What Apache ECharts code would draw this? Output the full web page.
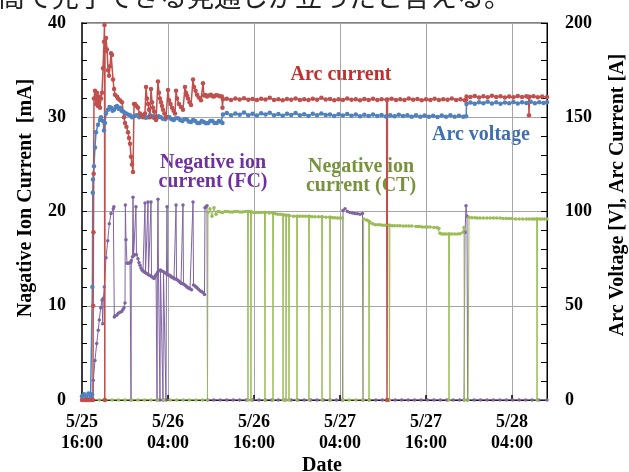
<!DOCTYPE html>
<html><head><meta charset="utf-8">
<script src="https://cdn.jsdelivr.net/npm/echarts@6/dist/echarts.min.js"></script>
<style>html,body{margin:0;padding:0;background:#fff}#c{width:629px;height:472px}</style>
</head><body><div id="c"></div>
<script>
// x values: hours after 5/25 16:00
const xTickLabels = ['5/25\n16:00', '5/26\n04:00', '5/26\n16:00', '5/27\n04:00', '5/27\n16:00', '5/28\n04:00'];
const leftTicks = [0, 10, 20, 30, 40];
const rightTicks = [0, 50, 100, 150, 200];

// Arc current [A] (right axis)
const arcCurrent = [
[0,0],[0.3,0],[0.6,0],[0.9,0],[1.2,0],[1.53,0],[1.56,50],[1.6,89],[1.63,120],[1.67,160],[1.81,164],[1.95,157],[2.09,163],[2.23,156],[2.37,161],[2.51,155],[2.65,160],[2.79,163],[2.93,176],[3.07,190],[3.14,199],[3.18,0],[3.21,185],[3.35,192],[3.49,186],[3.63,175],[3.77,172],[3.91,177],[4.05,184],[4.19,183],[4.33,170],[4.47,165],[4.60,162],[4.88,161],[5.02,160],[5.30,159],[5.58,158],[5.86,150],[6.00,147],[6.20,145],[6.42,142],[6.56,139],[6.70,136],[6.84,129],[6.98,125],[7.12,121],[7.26,157],[7.40,157],[7.60,156],[7.81,155],[8.09,152],[8.30,151],[8.51,150],[8.79,152],[8.93,166],[9.07,160],[9.21,157],[9.35,154],[9.49,150],[9.63,165],[9.77,158],[9.91,155],[10.05,153],[10.19,150],[10.33,148.5],[10.60,169],[10.74,163],[10.88,160],[11.02,158],[11.16,156],[11.30,154],[11.50,152],[11.72,150],[12.00,164.5],[12.14,159],[12.35,157],[12.56,155],[12.77,153.5],[12.98,152],[13.12,164],[13.26,160],[13.53,157],[13.81,155.5],[14.09,154],[14.37,166],[14.51,163],[14.65,161.5],[14.79,160],[15.00,158],[15.21,156.5],[15.49,170],[15.63,166],[15.84,164],[16.05,162],[16.30,160.5],[16.60,159],[16.88,168],[17.02,161.5],[17.23,161.8],[17.44,161],[17.72,161.6],[18.00,162],[18.21,161.2],[18.42,161],[18.70,161.7],[18.98,161.5],[19.25,161.2],[19.53,161],[19.60,155],
[19.67,159.5],[20.2,159.8],[20.8,159.2],[21.4,159.9],[22.0,159.4],[22.6,160.1],[23.2,159.3],[23.8,159.7],[24.4,159.1],[25.0,159.8],[25.6,159.4],[26.2,160.3],[26.8,159.2],[27.4,159.6],[28.0,159.0],[28.6,159.7],[29.2,159.3],[29.8,160.0],[30.4,159.2],[31.0,159.6],[31.6,159.1],[32.2,159.8],[32.8,159.3],[33.4,160.4],[34.0,159.4],[34.6,159.7],[35.2,159.0],[35.8,159.6],[36.4,159.2],[37.0,159.9],[37.6,159.3],[38.2,159.6],[38.8,159.0],[39.4,159.7],[40.0,159.2],[40.6,159.8],[41.2,159.1],[41.8,159.5],[42.5,159.3],[42.56,0],[42.62,159.4],[43.2,159.8],[43.8,159.1],[44.4,159.6],[45.0,159.2],[45.6,159.9],[46.2,159.3],[46.8,159.7],[47.4,159.0],[48.0,159.6],[48.6,159.2],[49.2,159.8],[49.8,159.1],[50.4,159.6],[51.0,159.3],[51.6,159.9],[52.2,159.2],[52.8,159.5],[53.4,159.0],[53.6,159.3],
[53.65,161.0],[54.2,160.7],[54.8,161.3],[55.4,160.5],[56.0,161.1],[56.6,160.6],[57.2,161.4],[57.8,160.8],[58.4,161.2],[59.0,160.5],[59.6,161.0],[60.2,160.6],[60.8,161.3],[61.4,160.8],[62.0,161.1],[62.3,160.7],[62.37,151],[62.44,160.9],[63.0,161.2],[63.6,160.6],[64.2,161.0],[64.88,160.7]
];

// Arc voltage [V] (right axis)
const arcVoltage = [
[0,2],[0.3,3],[0.6,1.5],[0.9,3.5],[1.2,2],[1.40,3],[1.45,60],[1.50,110],[1.53,117],[1.67,124],[1.81,134],[1.95,142],[2.23,146],[2.51,148.5],[2.65,150],[2.93,148],[3.07,143],[3.21,147],[3.35,152],[3.63,154],[3.84,155.5],[4.05,155],[4.26,153.5],[4.47,154],[4.68,155.5],[4.88,156],[5.09,154.5],[5.30,155],[5.51,153.5],[5.72,153],[5.93,152.5],[6.14,152],[6.42,151.5],[6.70,151],[6.98,150],[7.26,150.5],[7.6,151],[8.0,150],[8.3,150.8],[8.6,151],[8.9,149.8],[9.2,150],[9.5,151],[9.8,150.5],[10.1,149.5],[10.4,149.5],[10.7,150.5],[11.0,150],[11.3,149.2],[11.6,149],[11.9,150],[12.2,150],[12.5,149],[12.8,148.5],[13.1,149.5],[13.4,149.5],[13.7,148.5],[14.0,148],[14.3,149],[14.6,149],[14.9,147.8],[15.2,147.5],[15.5,148.5],[15.8,148],[16.1,147],[16.4,147],[16.7,148],[17.0,147.5],[17.3,146.8],[17.6,147],[17.9,148],[18.2,148],[18.5,147],[18.8,147],[19.1,148],[19.4,147.5],[19.6,147],
[19.67,151.5],[20.2,152.3],[20.8,151.0],[21.4,152.0],[22.0,151.3],[22.6,152.5],[23.2,151.1],[23.8,151.8],[24.4,150.9],[25.0,152.1],[25.6,151.4],[26.2,152.4],[26.8,151.0],[27.4,151.7],[28.0,150.8],[28.6,151.9],[29.2,151.2],[29.8,152.2],[30.4,151.0],[31.0,151.6],[31.6,150.7],[32.2,151.8],[32.8,151.1],[33.4,152.0],[34.0,151.2],[34.6,151.5],[35.2,150.6],[35.8,151.6],[36.4,150.9],[37.0,151.7],[37.6,150.8],[38.2,151.4],[38.8,150.5],[39.4,151.3],[40.0,150.6],[40.6,151.5],[41.2,150.7],[41.8,151.2],[42.4,150.4],[43.0,151.1],[43.6,150.5],[44.2,151.3],[44.8,150.6],[45.4,151.0],[46.0,150.2],[46.6,151.0],[47.2,150.3],[47.8,150.9],[48.4,150.2],[49.0,150.8],[49.6,150.1],[50.2,150.9],[50.8,150.3],[51.4,151.0],[52.0,150.2],[52.6,150.8],[53.2,150.3],[53.6,150.5],
[53.65,157.0],[54.2,157.8],[54.8,157.2],[55.4,158.0],[56.0,157.4],[56.6,158.2],[57.2,157.3],[57.8,157.9],[58.4,157.1],[59.0,157.8],[59.6,157.4],[60.2,158.1],[60.8,157.3],[61.4,157.9],[62.0,157.5],[62.6,158.2],[63.2,157.4],[63.8,158.0],[64.4,157.6],[64.88,157.9]
];

// Negative ion current (FC) [mA] (left axis)
const ionFC = [
[0,0],[1.53,0],[1.58,2.1],[1.81,4.2],[2.05,6.0],[2.27,7.4],[2.41,8.5],[2.61,9.8],[2.80,10.6],[2.89,8.1],[2.98,10.8],[3.11,12.0],[3.35,15.1],[3.59,16.9],[3.81,18.7],[4.05,19.8],[4.37,20.3],[4.45,20.5],[4.51,8.8],[4.60,8.9],[4.84,9.0],[5.07,9.2],[5.30,9.3],[5.54,9.4],[5.70,9.6],[5.86,9.8],[6.00,10.3],[6.05,20.7],[6.14,17.0],[6.28,14.5],[6.49,14.5],[6.70,14.6],[6.80,14.6],[6.84,0],[6.88,14.8],[7.05,15.2],[7.12,21.5],[7.20,15.3],[7.36,15.4],[7.53,20.5],[7.60,15.4],[7.81,15.0],[7.95,14.6],[8.09,14.3],[8.23,14.0],[8.37,13.8],[8.51,13.7],[8.65,13.6],[8.79,20.9],[8.86,13.5],[9.07,13.4],[9.21,21.0],[9.28,13.3],[9.45,13.2],[9.63,21.0],[9.70,13.1],[9.88,13.0],[10.05,12.9],[10.19,13.1],[10.33,13.3],[10.47,0],[10.52,13.5],[10.60,21.3],[10.67,13.7],[10.88,0],[10.95,13.8],[11.12,13.7],[11.30,0],[11.37,13.6],[11.55,13.5],[11.72,0],[11.78,13.4],[11.86,20.5],[11.93,13.3],[12.10,13.25],[12.28,13.2],[12.42,13.1],[12.56,13.0],[12.70,13.0],[12.84,12.9],[12.98,12.85],[13.12,20.7],[13.19,12.8],[13.36,12.7],[13.53,12.6],[13.67,12.5],[13.81,12.4],[13.95,12.35],[14.09,20.7],[14.16,12.3],[14.33,12.2],[14.51,12.1],[14.65,12.0],[14.79,11.9],[14.93,11.85],[15.07,11.8],[15.28,11.7],[15.49,21.0],[15.56,12.2],[15.77,12.1],[15.91,12.0],[16.05,11.9],[16.26,11.75],[16.47,11.6],[16.67,11.5],[16.88,11.4],[17.09,11.2],[17.16,20.4],[17.30,20.5],[17.44,20.6],[17.51,0],
[18.4,0],[19.3,0],[20.2,0],[21.1,0],[22.0,0],[22.9,0],[23.8,0],[24.7,0],[25.6,0],[26.5,0],[27.4,0],[28.3,0],[29.2,0],[30.1,0],[31.0,0],[31.9,0],[32.8,0],[33.7,0],[34.6,0],[35.5,0],[36.35,0],[36.42,20.1],[36.70,20.3],[37.05,20.0],[37.40,19.9],[37.75,19.85],[38.09,19.8],[38.44,19.75],[38.79,19.7],[39.14,19.8],[39.21,0],
[40.1,0],[41.0,0],[41.9,0],[42.8,0],[43.7,0],[44.6,0],[45.5,0],[46.4,0],[47.3,0],[48.2,0],[49.1,0],[50.0,0],[50.9,0],[51.8,0],[52.7,0],[53.30,0],[53.44,17.8],[53.58,20.6],[53.72,19.5],[53.80,0],[54.7,0],[55.6,0],[56.5,0],[57.4,0],[58.3,0],[59.2,0],[60.1,0],[61.0,0],[61.9,0],[62.8,0],[63.7,0],[64.88,0]
];

// Negative ion current (CT) [mA] (left axis)
const ionCT = [
[0,0],[1.5,0],[2.4,0],[3.3,0],[4.2,0],[5.1,0],[6.0,0],[6.9,0],[7.8,0],[8.7,0],[9.6,0],[10.5,0],[11.4,0],[12.3,0],[13.2,0],[14.1,0],[15.0,0],[15.9,0],[16.8,0],[17.51,0],[17.58,19.9],[17.86,20.3],[18.14,19.5],[18.42,20.4],[18.70,19.7],[18.98,20.0],[19.3,19.95],[19.6,19.9],[19.95,20.0],[20.3,20.0],[20.65,19.95],[21.0,19.95],[21.35,20.0],[21.7,20.0],[22.05,19.95],[22.4,19.95],[22.75,20.0],[23.10,20.0],[23.16,0],[23.22,20.0],[23.52,20.0],[23.58,0],[23.64,19.95],[23.97,19.9],[24.3,19.9],[24.65,19.9],[25.0,19.9],[25.47,19.9],[25.53,0],[25.59,19.9],[26.1,19.85],[26.60,19.85],[26.65,0],[26.71,19.8],[27.0,19.75],[27.3,19.7],[27.65,19.7],[28.0,19.65],[28.05,0],[28.11,19.65],[28.42,19.6],[28.47,0],[28.53,19.6],[28.83,19.6],[28.88,0],[28.94,19.55],[29.5,19.5],[29.95,19.5],[30.0,0],[30.06,19.5],[30.4,19.5],[30.8,19.5],[31.2,19.5],[31.62,19.5],[31.67,0],[31.73,19.5],[32.1,19.45],[32.5,19.45],[33.0,19.45],[33.44,19.45],[33.49,0],[33.55,19.45],[34.05,19.4],[34.55,19.4],[34.60,0],[34.66,19.4],[35.0,19.35],[35.3,19.35],[35.65,19.3],[36.0,19.3],[36.35,19.3],[36.42,0],[37.3,0],[38.2,0],[39.21,0],[39.30,19.2],[39.7,19.1],[40.0,19.0],[40.05,0],[40.11,18.9],[40.19,18.8],[40.55,18.7],[40.88,18.6],[41.25,18.6],[41.6,18.6],[41.95,18.55],[42.3,18.55],[42.84,18.55],[42.90,0],[42.96,18.55],[43.3,18.5],[43.6,18.5],[44.0,18.5],[44.37,18.5],[44.8,18.45],[45.2,18.45],[45.6,18.45],[46.0,18.45],[46.6,18.4],[46.9,18.4],[47.16,18.4],[47.5,18.35],[47.9,18.35],[48.2,18.35],[48.56,18.35],[49.1,18.3],[49.53,18.3],[49.80,18.2],[49.95,17.7],[50.2,17.6],[50.5,17.6],[50.8,17.6],[51.15,17.6],[51.21,0],[51.27,17.6],[51.6,17.6],[52.0,17.6],[52.4,17.6],[52.74,17.65],[53.16,17.8],[53.30,18.3],[53.36,0],[53.86,0],[54.0,19.4],[54.4,19.35],[54.8,19.35],[55.15,19.3],[55.53,19.3],[56.0,19.3],[56.5,19.3],[56.95,19.3],[57.4,19.3],[57.85,19.3],[58.33,19.3],[58.75,19.25],[59.2,19.25],[59.6,19.25],[60.0,19.25],[60.5,19.2],[61.0,19.2],[61.5,19.2],[62.0,19.2],[62.4,19.2],[62.8,19.2],[63.1,19.2],[63.44,19.2],[63.49,0],[63.55,19.2],[63.9,19.2],[64.2,19.2],[64.55,19.2],[64.88,19.2]
];

const serif = '"Liberation Serif","Times New Roman",serif';
const chart = echarts.init(document.getElementById('c'), null, {renderer: 'canvas'});

function lineSeries(name, data, yIdx, color, lw, ss) {
  return {
    name: name, type: 'line', data: data, yAxisIndex: yIdx,
    showSymbol: true, showAllSymbol: true, symbol: 'circle', symbolSize: ss,
    lineStyle: {color: color, width: lw}, itemStyle: {color: color},
    animation: false, silent: true
  };
}

chart.setOption({
  animation: false,
  backgroundColor: '#fff',
  grid: {left: 82, right: 82, top: 23, bottom: 72, show: true, borderColor: '#000', borderWidth: 1, backgroundColor: 'transparent'},
  xAxis: {
    type: 'value', min: 0, max: 64.88, interval: 12,
    axisLine: {show: true, onZero: false, lineStyle: {color: '#000', width: 1}},
    axisTick: {show: true, inside: true, length: 5, lineStyle: {color: '#000', width: 1.5}},
    splitLine: {show: true, lineStyle: {color: '#a6a6a6', width: 1}},
    axisLabel: {
      showMaxLabel: false, margin: 12, lineHeight: 21,
      fontFamily: serif, fontWeight: 'bold', fontSize: 18, color: '#000',
      formatter: function (v) {
        const i = Math.round(v / 12);
        return (Math.abs(v - i * 12) < 1e-6 && i >= 0 && i < xTickLabels.length) ? xTickLabels[i] : '';
      }
    }
  },
  yAxis: [
    {
      type: 'value', min: leftTicks[0], max: leftTicks[leftTicks.length - 1], interval: leftTicks[1] - leftTicks[0], position: 'left',
      axisLine: {show: true, lineStyle: {color: '#3a3a3a', width: 2}},
      axisTick: {show: true, inside: true, length: 5, lineStyle: {color: '#000'}},
      minorTick: {show: true, splitNumber: 5, length: 5, lineStyle: {color: '#000'}},
      splitLine: {show: true, lineStyle: {color: '#a6a6a6', width: 1}},
      axisLabel: {margin: 16, fontFamily: serif, fontWeight: 'bold', fontSize: 18, color: '#000'}
    },
    {
      type: 'value', min: rightTicks[0], max: rightTicks[rightTicks.length - 1], interval: rightTicks[1] - rightTicks[0], position: 'right',
      axisLine: {show: true, lineStyle: {color: '#000', width: 1}},
      axisTick: {show: true, inside: true, length: 6, lineStyle: {color: '#000'}},
      minorTick: {show: true, splitNumber: 5, length: 6, lineStyle: {color: '#000'}},
      splitLine: {show: false},
      axisLabel: {margin: 18, fontFamily: serif, fontWeight: 'bold', fontSize: 18, color: '#000'}
    }
  ],
  series: [
    lineSeries('Negative ion current (FC)', ionFC, 0, '#8064A2', 1, 3.5),
    lineSeries('Negative ion current (CT)', ionCT, 0, '#9BBB59', 1, 3.5),
    lineSeries('Arc voltage', arcVoltage, 1, '#4F81BD', 1.5, 4.5),
    lineSeries('Arc current', arcCurrent, 1, '#C0504D', 1.5, 4.5)
  ],
  graphic: [
    {type: 'text', x: -2, y: -17, silent: true, style: {text: '高で完了できる見通しが立ったと言える。', font: '27px "Noto Sans CJK JP"', fill: '#222', align: 'left', verticalAlign: 'top'}},
    {type: 'text', x: 341, y: 75, silent: true, style: {text: 'Arc current', font: 'bold 20px ' + serif, fill: '#C0302E', align: 'center', verticalAlign: 'middle'}},
    {type: 'text', x: 481, y: 135, silent: true, style: {text: 'Arc voltage', font: 'bold 20px ' + serif, fill: '#3F6FB0', align: 'center', verticalAlign: 'middle'}},
    {type: 'text', x: 213, y: 172, silent: true, style: {text: 'Negative ion\ncurrent (FC)', font: 'bold 20px ' + serif, lineHeight: 19, fill: '#7030A0', align: 'center', verticalAlign: 'middle'}},
    {type: 'text', x: 361, y: 176, silent: true, style: {text: 'Negative ion\ncurrent (CT)', font: 'bold 20px ' + serif, lineHeight: 19, fill: '#77933C', align: 'center', verticalAlign: 'middle'}},
    {type: 'text', x: 26, y: 198, rotation: Math.PI / 2, silent: true, style: {text: 'Nagative Ion Current  [mA]', font: 'bold 20px ' + serif, fill: '#000', align: 'center', verticalAlign: 'middle'}},
    {type: 'text', x: 618, y: 195, rotation: Math.PI / 2, silent: true, style: {text: 'Arc Voltage [V], Arc Current [A]', font: 'bold 20px ' + serif, fill: '#000', align: 'center', verticalAlign: 'middle'}},
    {type: 'text', x: 322, y: 466, silent: true, style: {text: 'Date', font: 'bold 20px ' + serif, fill: '#000', align: 'center', verticalAlign: 'middle'}}
  ]
});
</script></body></html>
